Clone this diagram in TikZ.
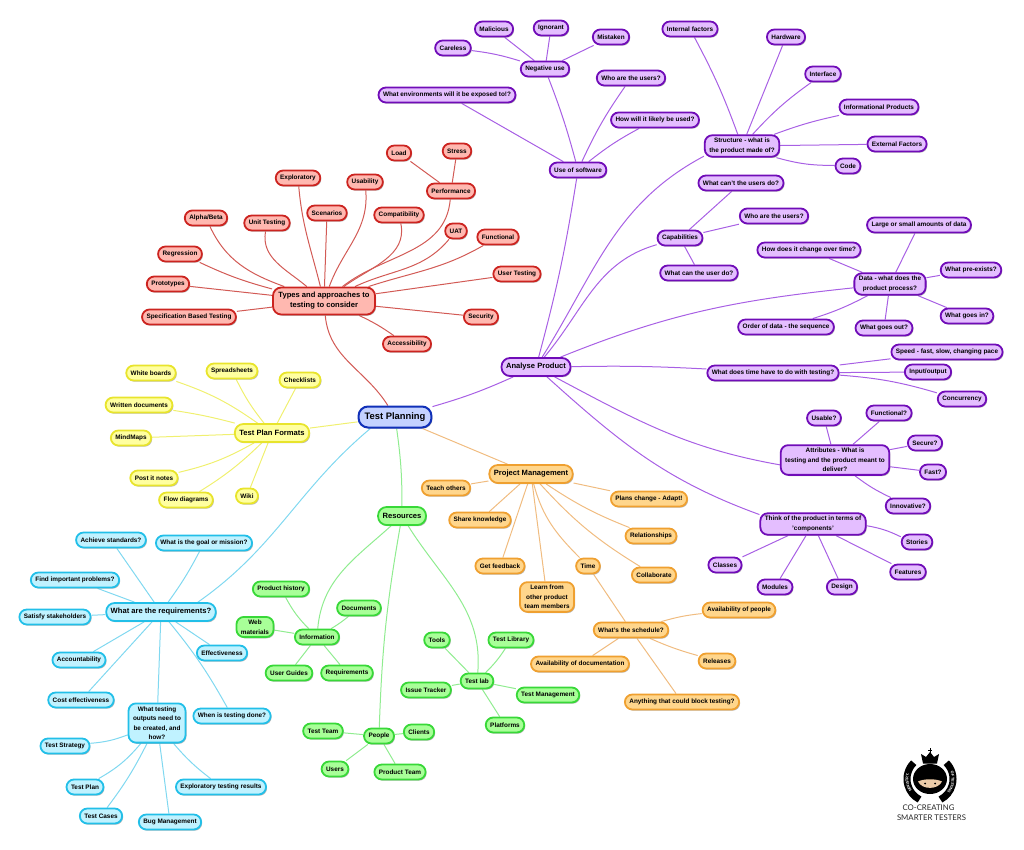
\documentclass[tikz,border=0pt]{standalone}
\usepackage{fontspec}
\setmainfont{Liberation Sans}
\newfontfamily\logofont{Lato}
\usetikzlibrary{positioning,shadows,backgrounds,decorations.text}

\definecolor{redline}{HTML}{CC2420}
\definecolor{rededge}{HTML}{D25A55}
\definecolor{redfill}{HTML}{FFB8B0}
\definecolor{violetline}{HTML}{700CB8}
\definecolor{violetedge}{HTML}{A860E4}
\definecolor{violetfill}{HTML}{E4BEFF}
\definecolor{yellowline}{HTML}{E8E42C}
\definecolor{yellowedge}{HTML}{F0F070}
\definecolor{yellowfill}{HTML}{FFFFA0}
\definecolor{cyanline}{HTML}{22BFE8}
\definecolor{cyanedge}{HTML}{80D8F0}
\definecolor{cyanfill}{HTML}{C0F2FF}
\definecolor{greenline}{HTML}{38D838}
\definecolor{greenedge}{HTML}{90EC90}
\definecolor{greenfill}{HTML}{A8FF98}
\definecolor{orangeline}{HTML}{EFA030}
\definecolor{orangeedge}{HTML}{F0BC80}
\definecolor{orangefill}{HTML}{FFD68C}
\definecolor{blueline}{HTML}{1030B8}
\definecolor{bluefill}{HTML}{C4D2FF}
\definecolor{skintone}{HTML}{EBCBA8}

\begin{document}
\begin{tikzpicture}[x=1pt,y=-1pt,
    main node/.style={rounded corners=7.5pt,line width=1.8pt,inner xsep=4.5pt,inner ysep=3pt,
        minimum height=15pt,align=center,text=black,font=\fontsize{6.4}{9.5}\selectfont\bfseries,
        drop shadow={shadow xshift=1pt,shadow yshift=-1.2pt,fill=black!45,opacity=.6}},
    hub node/.style={font=\fontsize{7.6}{10}\selectfont\bfseries,minimum height=18pt,rounded corners=8.5pt},
    red node/.style={main node,draw=redline,fill=redfill},
    violet node/.style={main node,draw=violetline,fill=violetfill},
    yellow node/.style={main node,draw=yellowline,fill=yellowfill},
    cyan node/.style={main node,draw=cyanline,fill=cyanfill},
    green node/.style={main node,draw=greenline,fill=greenfill},
    orange node/.style={main node,draw=orangeline,fill=orangefill},
    red link/.style={draw=rededge,line width=1pt},
    violet link/.style={draw=violetedge,line width=1pt},
    yellow link/.style={draw=yellowedge,line width=1pt},
    cyan link/.style={draw=cyanedge,line width=1pt},
    green link/.style={draw=greenedge,line width=1pt},
    orange link/.style={draw=orangeedge,line width=1pt}]

  \useasboundingbox (0,0) rectangle (1024,850);

  % centre
  \node[main node,draw=blueline,fill=bluefill,line width=2pt,rounded corners=9.5pt,minimum height=21pt,
        font=\fontsize{9.4}{11}\selectfont\bfseries,inner xsep=6pt] (plan) at (395,417) {Test Planning};

  % red branch
  \node[red node,hub node,inner ysep=5pt,inner xsep=5.5pt] (types) at (324,301) {Types and approaches to\\testing to consider};
  \node[red node] (load) at (399,153) {Load};
  \node[red node] (stress) at (457,151) {Stress};
  \node[red node] (perf) at (451,191) {Performance};
  \node[red node] (explo) at (298,178) {Exploratory};
  \node[red node] (usab) at (365,182) {Usability};
  \node[red node] (scen) at (327,213) {Scenarios};
  \node[red node] (compat) at (399,215) {Compatibility};
  \node[red node] (uat) at (456,231) {UAT};
  \node[red node] (func) at (498,237) {Functional};
  \node[red node] (user) at (517,274) {User Testing};
  \node[red node] (secu) at (481,317) {Security};
  \node[red node] (acces) at (407,344) {Accessibility};
  \node[red node] (alpha) at (206,218) {Alpha/Beta};
  \node[red node] (unit) at (267,223) {Unit Testing};
  \node[red node] (regr) at (180,254) {Regression};
  \node[red node] (proto) at (168,284) {Prototypes};
  \node[red node] (spec) at (189,317) {Specification Based Testing};

  % yellow branch
  \node[yellow node,hub node] (formats) at (272,433) {Test Plan Formats};
  \node[yellow node] (white) at (151,373) {White boards};
  \node[yellow node] (sheets) at (232,371) {Spreadsheets};
  \node[yellow node] (check) at (300,380) {Checklists};
  \node[yellow node] (written) at (139,405) {Written documents};
  \node[yellow node] (mind) at (131,438) {MindMaps};
  \node[yellow node] (postit) at (154,478) {Post it notes};
  \node[yellow node] (flow) at (186,500) {Flow diagrams};
  \node[yellow node] (wiki) at (247,496) {Wiki};

  % cyan branch
  \node[cyan node,hub node] (req) at (161,612) {What are the requirements?};
  \node[cyan node] (achieve) at (111,540) {Achieve standards?};
  \node[cyan node] (goal) at (204,543) {What is the goal or mission?};
  \node[cyan node] (find) at (75,580) {Find important problems?};
  \node[cyan node] (satisfy) at (55,617) {Satisfy stakeholders};
  \node[cyan node] (account) at (79,660) {Accountability};
  \node[cyan node] (cost) at (81,700) {Cost effectiveness};
  \node[cyan node] (outputs) at (157,723) {What testing\\outputs need to\\be created, and\\how?};
  \node[cyan node] (effect) at (222,653) {Effectiveness};
  \node[cyan node] (when) at (232,716) {When is testing done?};
  \node[cyan node] (strategy) at (65,746) {Test Strategy};
  \node[cyan node] (tplan) at (85,787) {Test Plan};
  \node[cyan node] (tcases) at (101,816) {Test Cases};
  \node[cyan node] (bug) at (170,822) {Bug Management};
  \node[cyan node] (results) at (221,787) {Exploratory testing results};

  % green branch
  \node[green node,hub node] (res) at (402,516) {Resources};
  \node[green node] (info) at (317,637) {Information};
  \node[green node] (hist) at (281,589) {Product history};
  \node[green node] (docs) at (359,608) {Documents};
  \node[green node] (web) at (255,627) {Web\\materials};
  \node[green node] (guides) at (289,673) {User Guides};
  \node[green node] (reqs) at (347,673) {Requirements};
  \node[green node] (lab) at (477,681) {Test lab};
  \node[green node] (tools) at (437,640) {Tools};
  \node[green node] (library) at (511,640) {Test Library};
  \node[green node] (issue) at (426,690) {Issue Tracker};
  \node[green node] (tmanage) at (548,695) {Test Management};
  \node[green node] (plat) at (505,725) {Platforms};
  \node[green node] (people) at (379,736) {People};
  \node[green node] (team) at (323,731) {Test Team};
  \node[green node] (clients) at (419,732) {Clients};
  \node[green node] (users) at (335,769) {Users};
  \node[green node] (prod) at (400,772) {Product Team};

  % orange branch
  \node[orange node,hub node] (manage) at (531,474) {Project Management};
  \node[orange node] (teach) at (446,488) {Teach others};
  \node[orange node] (share) at (480,520) {Share knowledge};
  \node[orange node] (change) at (649,499) {Plans change -  Adapt!};
  \node[orange node] (relat) at (651,536) {Relationships};
  \node[orange node] (feed) at (500,566) {Get feedback};
  \node[orange node] (collab) at (654,575) {Collaborate};
  \node[orange node] (time) at (588,566) {Time};
  \node[orange node] (learn) at (547,597) {Learn from\\other product\\team members};
  \node[orange node] (sched) at (631,630) {What's the schedule?};
  \node[orange node] (avpeople) at (739,610) {Availability of people};
  \node[orange node] (avdoc) at (580,664) {Availability of documentation};
  \node[orange node] (releases) at (717,661) {Releases};
  \node[orange node] (block) at (682,702) {Anything that could block testing?};

  % violet branch
  \node[violet node,hub node] (prodan) at (536,367) {Analyse Product};
  \node[violet node] (software) at (578,170) {Use of software};
  \node[violet node] (negative) at (545,69) {Negative use};
  \node[violet node] (careless) at (453,48) {Careless};
  \node[violet node] (malicious) at (494,29) {Malicious};
  \node[violet node] (ignorant) at (551,28) {Ignorant};
  \node[violet node] (mistaken) at (611,37) {Mistaken};
  \node[violet node] (envs) at (447,95) {What environments will it be exposed to!?};
  \node[violet node] (whousers) at (631,78) {Who are the users?};
  \node[violet node] (howused) at (655,120) {How will it likely be used?};
  \node[violet node] (struct) at (742,146) {Structure - what is\\the product made of?};
  \node[violet node] (internal) at (690,29) {Internal factors};
  \node[violet node] (hardware) at (786,37) {Hardware};
  \node[violet node] (interface) at (823,74) {Interface};
  \node[violet node] (informat) at (879,107) {Informational Products};
  \node[violet node] (external) at (897,144) {External Factors};
  \node[violet node] (code) at (848,166) {Code};
  \node[violet node] (capab) at (680,238) {Capabilities};
  \node[violet node] (cant) at (741,183) {What can't the users do?};
  \node[violet node] (whoare) at (774,216) {Who are the users?};
  \node[violet node] (cando) at (699,273) {What can the user do?};
  \node[violet node] (data) at (890,284) {Data - what does the\\product process?};
  \node[violet node] (amounts) at (919,225) {Large or small amounts of data};
  \node[violet node] (howchange) at (809,250) {How does it change over time?};
  \node[violet node] (preex) at (971,270) {What pre-exists?};
  \node[violet node] (goesin) at (967,316) {What goes in?};
  \node[violet node] (goesout) at (884,328) {What goes out?};
  \node[violet node] (order) at (786,327) {Order of data - the sequence};
  \node[violet node] (timetest) at (773,373) {What does time have to do with testing?};
  \node[violet node] (speed) at (947,352) {Speed - fast, slow, changing pace};
  \node[violet node] (inout) at (928,372) {Input/output};
  \node[violet node] (concur) at (962,399) {Concurrency};
  \node[violet node] (attrib) at (835,460) {Attributes - What is\\testing and the product meant to\\deliver?};
  \node[violet node] (usable) at (824,418) {Usable?};
  \node[violet node] (functional) at (889,413) {Functional?};
  \node[violet node] (secure) at (925,443) {Secure?};
  \node[violet node] (fast) at (933,472) {Fast?};
  \node[violet node] (innov) at (908,506) {Innovative?};
  \node[violet node] (compo) at (813,524) {Think of the product in terms of\\'components'};
  \node[violet node] (stories) at (917,542) {Stories};
  \node[violet node] (features) at (908,572) {Features};
  \node[violet node] (design) at (842,587) {Design};
  \node[violet node] (modules) at (775,587) {Modules};
  \node[violet node] (classes) at (725,565) {Classes};

  \begin{scope}[on background layer]
  \path[red link]
   (plan) edge [out=122,in=-85] (types)
   (types) edge [out=38,in=-95] (perf)
        edge [out=104,in=-85] (explo)
        edge [out=70,in=-85] (usab)
        edge (scen)
        edge [out=36,in=-78] (compat)
        edge [out=25,in=-130] (uat)
        edge [out=18,in=-150] (func)
        edge (user)
        edge (secu)
        edge [bend left=5] (acces)
        edge [out=160,in=-65] (alpha)
        edge [out=140,in=-100] (unit)
        edge [bend left=5] (regr)
        edge (proto)
        edge (spec)
   (perf) edge (load)
        edge (stress);
  \path[yellow link]
   (plan) edge (formats)
   (formats) edge [bend right=8] (white)
        edge [bend left=6] (sheets)
        edge (check)
        edge [bend right=3] (written)
        edge (mind)
        edge [bend left=8] (postit)
        edge [bend left=6] (flow)
        edge (wiki);
  \path[cyan link]
   (plan.205) edge [out=220,in=35] (req.15)
   (req) edge (achieve)
        edge [bend right=4] (goal)
        edge (find)
        edge (satisfy)
        edge (account)
        edge (cost)
        edge (outputs)
        edge (effect)
        edge [bend left=5] (when)
   (outputs) edge [bend left=8] (strategy)
        edge [bend left=10] (tplan)
        edge [bend left=5] (tcases)
        edge (bug)
        edge [bend right=6] (results);
  \path[green link]
   (plan) edge [bend left=4] (res)
   (res) edge [out=222,in=85] (info)
        edge [bend right=4] (people)
        edge [out=-58,in=85] (lab)
   (info) edge [bend left=8] (hist)
        edge [bend right=4] (docs)
        edge (web)
        edge (guides)
        edge (reqs)
   (lab) edge (tools)
        edge [bend right=6] (library)
        edge (issue)
        edge (tmanage)
        edge (plat)
   (people) edge (team)
        edge (clients)
        edge (users)
        edge (prod);
  \path[orange link]
   (plan) edge (manage)
   (manage) edge (teach)
        edge (share)
        edge (change)
        edge [bend right=6] (relat)
        edge (feed)
        edge [bend right=8] (collab)
        edge [out=-75,in=135] (time)
        edge (learn)
   (time) edge (sched)
   (sched) edge [bend left=5] (avpeople)
        edge (avdoc)
        edge [bend right=4] (releases)
        edge (block);
  \path[violet link]
   (plan) edge [bend right=4] (prodan)
   (prodan) edge [bend right=3] (software)
        edge [out=58,in=208] (struct.195)
        edge [out=50,in=196] (capab)
        edge [out=22,in=186] (data)
        edge [bend left=2] (timetest)
        edge [out=-28,in=170] (attrib.185)
        edge [out=-42,in=160] (compo.170)
   (software) edge [bend right=3] (negative)
        edge (envs)
        edge [bend left=5] (whousers)
        edge [bend left=5] (howused)
   (negative) edge [bend right=5] (careless)
        edge (malicious)
        edge (ignorant)
        edge (mistaken)
   (struct) edge [bend right=4] (internal)
        edge (hardware)
        edge [bend left=6] (interface)
        edge [bend left=4] (informat)
        edge (external)
        edge [bend right=8] (code)
   (capab) edge (cant)
        edge (whoare)
        edge (cando)
   (data) edge (amounts)
        edge (howchange)
        edge (preex)
        edge (goesin)
        edge (goesout)
        edge [bend left=5] (order)
   (timetest) edge (speed)
        edge (inout)
        edge [bend left=6] (concur)
   (attrib) edge (usable)
        edge (functional)
        edge (secure)
        edge (fast)
        edge [bend right=6] (innov)
   (compo) edge [bend left=8] (stories)
        edge (features)
        edge (design)
        edge (modules)
        edge (classes);
  \end{scope}

  % logo
  \begin{scope}[shift={(930,779)},y=1pt]
    \draw[black,line width=7pt] (135:23) arc (135:243:23);
    \draw[black,line width=7pt] (45:23) arc (45:-63:23);
    \path[postaction={decorate},decoration={text along path,text align=center,raise=-1.3pt,
        text={|\fontsize{3.8}{3.8}\selectfont\bfseries\color{white}|MINISTRY.}}]
      (243:23) arc (243:135:23);
    \path[postaction={decorate},decoration={text along path,text align=center,raise=-1.3pt,
        text={|\fontsize{3.8}{3.8}\selectfont\bfseries\color{white}|OF TESTING}}]
      (45:23) arc (45:-63:23);
    \fill[black] (0,0) ellipse (17 and 15);
    \fill[skintone] (-12,-2.5) .. controls (-6,0.5) and (6,0.5) .. (12,-2.5)
        .. controls (8,-11) and (-8,-11) .. cycle;
    \fill[black] (-5,-4.5) circle (1) (5,-4.5) circle (1);
    \fill[black] (-7,15.5) -- (-9,25) -- (-4,22) -- (0,27) -- (4,22) -- (9,25) -- (7,15.5) -- cycle;
    \draw[black,line width=.8pt] (0,26) -- (0,31) (-1.8,29) -- (1.8,29);
  \end{scope}
  \node[font=\logofont\fontsize{7.8}{8}\selectfont,text=black!85,inner sep=0pt] (logoa) at (928.5,808) {CO-CREATING};
  \node[font=\logofont\fontsize{7.8}{8}\selectfont,text=black!85,inner sep=0pt] (logob) at (931.5,818) {SMARTER TESTERS};
\end{tikzpicture}
\end{document}
